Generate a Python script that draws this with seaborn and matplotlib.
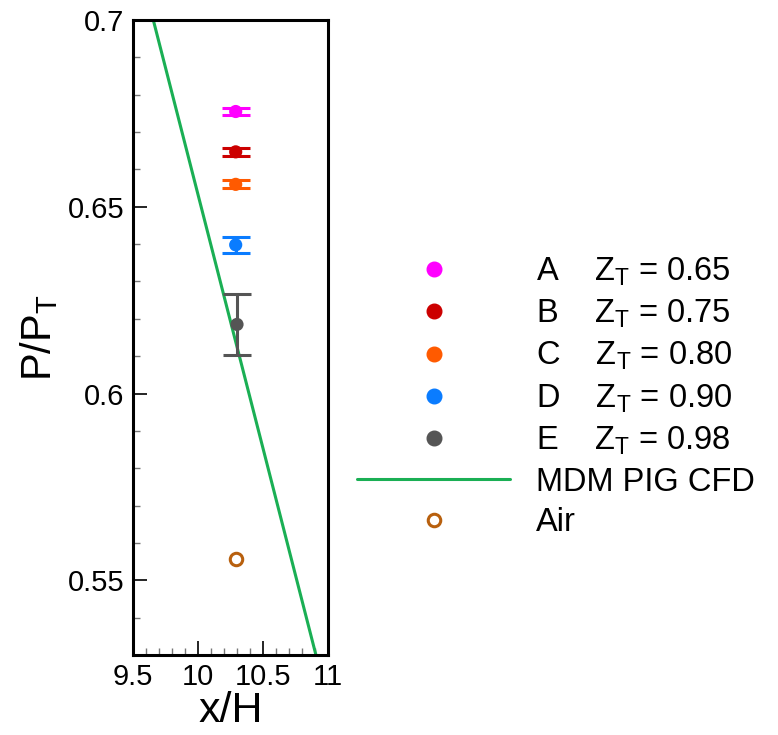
import numpy as np
import pandas as pd
import matplotlib.pyplot as plt
from matplotlib.lines import Line2D
from matplotlib.ticker import MultipleLocator
import seaborn as sns

# data
cases = ["A", "B", "C", "D", "E"]
z_t = ["0.65", "0.75", "0.80", "0.90", "0.98"]
x_loc = [10.29, 10.29, 10.29, 10.29, 10.30]
p_ratio = [0.6755, 0.6647, 0.6560, 0.6398, 0.6185]
p_err = [0.0009, 0.0010, 0.0011, 0.0021, 0.0082]
case_colors = ["#ff00ff", "#cc0000", "#ff5a00", "#0a7cff", "#555555"]

air_x = [10.29]
air_y = [0.5557]

cfd_x = [9.5, 11.0]
cfd_y = [0.7212, 0.5174]

green = "#1aaf54"
brown = "#b8600e"

sns.set_style("ticks")
plt.rcParams["font.family"] = ["Liberation Sans", "DejaVu Sans"]
plt.rcParams["mathtext.default"] = "regular"
plt.rcParams["text.color"] = "black"
plt.rcParams["axes.labelcolor"] = "black"

fig = plt.figure(figsize=(7.78, 7.35), dpi=100)
ax = fig.add_axes([133 / 778, 80 / 735, 195 / 778, 635 / 735])

df = pd.DataFrame({"case": cases, "x": x_loc, "p": p_ratio, "err": p_err})

# CFD line
sns.lineplot(x=cfd_x, y=cfd_y, ax=ax, color=green, lw=2.2, legend=False)

# error bars
for xi, yi, ei, c in zip(x_loc, p_ratio, p_err, case_colors):
    ax.errorbar(xi, yi, yerr=ei, fmt="none", ecolor=c, elinewidth=2.2,
                capsize=10, capthick=2.2, zorder=3)

sns.scatterplot(data=df, x="x", y="p", hue="case", palette=case_colors,
                s=90, edgecolor="none", ax=ax, legend=False, zorder=4)

# air
sns.scatterplot(x=air_x, y=air_y, ax=ax, marker="o", s=80, facecolor="white",
                edgecolor=brown, linewidth=2.2, zorder=4)

ax.set_xlim(9.5, 11.0)
ax.set_ylim(0.53, 0.70)
ax.xaxis.set_minor_locator(MultipleLocator(0.1))
ax.yaxis.set_minor_locator(MultipleLocator(0.01))
ax.set_xticks([9.5, 10, 10.5, 11])
ax.set_xticklabels(["9.5", "10", "10.5", "11"])
ax.set_yticks([0.55, 0.6, 0.65, 0.7])
ax.set_yticklabels(["0.55", "0.6", "0.65", "0.7"])
ax.tick_params(which="major", direction="in", length=10, width=1.2,
               labelsize=21, colors="black", pad=6)
ax.tick_params(which="minor", direction="in", length=5, width=1.0,
               colors="#777777")
for s in ax.spines.values():
    s.set_linewidth(2.2)
    s.set_color("black")

ax.set_xlabel("x/H", fontsize=31, labelpad=0)
ax.set_ylabel("P/P$_T$", fontsize=30, labelpad=6)

# legend
handles = [Line2D([], [], ls="none", marker="o", color=c, markersize=10.5)
           for c in case_colors]
handles.append(Line2D([], [], color=green, lw=2.2))
handles.append(Line2D([], [], ls="none", marker="o", markerfacecolor="white",
                      markeredgecolor=brown, markeredgewidth=2.2, markersize=9))
labels = [f"{c}    Z$_T$ = {z}" for c, z in zip(cases, z_t)]
labels += ["MDM PIG CFD", "Air"]

fig.legend(handles, labels, loc="center left",
           bbox_to_anchor=(357 / 778, 1 - 397 / 735),
           frameon=False, fontsize=23.5, handlelength=4.7, handletextpad=0.77,
           labelspacing=0.3, borderpad=0, borderaxespad=0)

fig.savefig("out.png", dpi=100)
